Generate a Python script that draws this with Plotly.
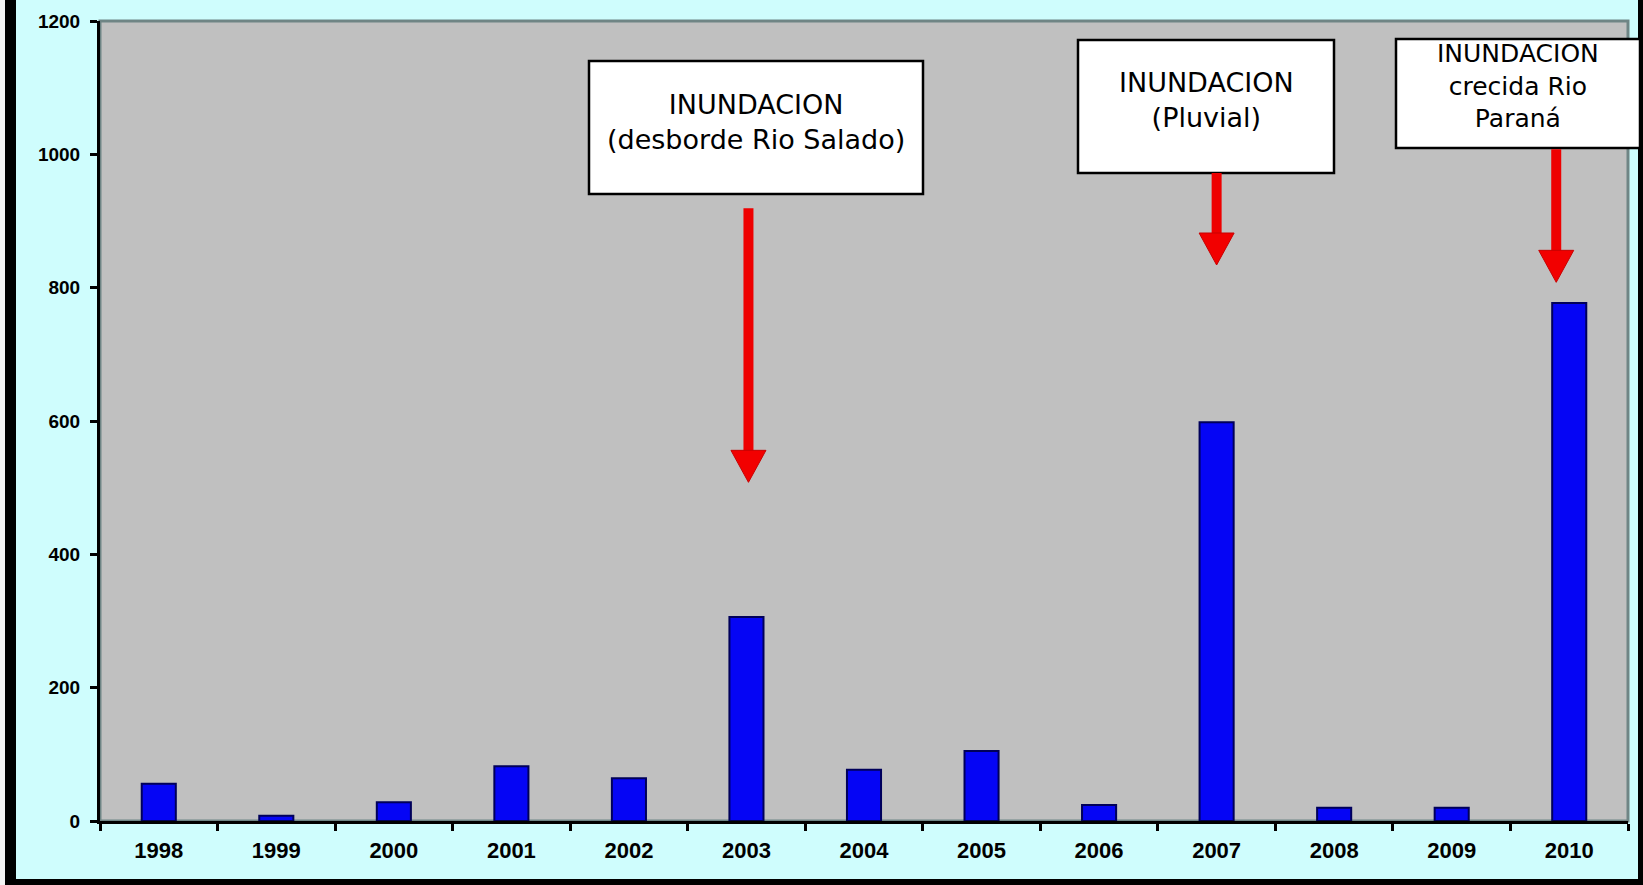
import plotly.graph_objects as go

# ---- data ----
years = ["1998", "1999", "2000", "2001", "2002", "2003", "2004",
         "2005", "2006", "2007", "2008", "2009", "2010"]
values = [56, 8, 28, 82, 64, 306, 77, 105, 24, 598, 20, 20, 777]
y_ticks = [0, 200, 400, 600, 800, 1000, 1200]

# annotation texts and the year each arrow points to
notes = ["INUNDACION<br>(desborde Rio Salado)",
         "INUNDACION<br>(Pluvial)",
         "INUNDACION<br>crecida Rio<br>Paraná"]
note_sizes = [27, 27, 25]
note_years = ["2003", "2007", "2010"]
arrow_tip_vals = [508, 834, 808]

# ---- layout geometry (pixels in a 1643x885 page) ----
W, H = 1643, 885
L, R, T, B = 100, 1628, 21, 821


def px(xp):
    return (xp - L) / (R - L)


def py(yp):
    return (B - yp) / (B - T)


fig = go.Figure()
fig.add_trace(go.Bar(
    x=years, y=values,
    marker=dict(color="#0505f5", line=dict(color="#00005a", width=2)),
    width=0.29,
))

shapes = []
# plot-area frame (grey top/right)
shapes.append(dict(type="rect", xref="x domain", yref="y domain",
                   x0=0, x1=1, y0=0, y1=1,
                   line=dict(color="#6f8585", width=3), layer="below"))
# page borders
shapes.append(dict(type="rect", xref="paper", yref="paper",
                   x0=px(0), x1=px(5), y0=py(H), y1=py(0),
                   fillcolor="#f4f4f4", line=dict(width=0), layer="below"))
shapes.append(dict(type="rect", xref="paper", yref="paper",
                   x0=px(5), x1=px(16), y0=py(H), y1=py(0),
                   fillcolor="black", line=dict(width=0), layer="above"))
shapes.append(dict(type="rect", xref="paper", yref="paper",
                   x0=px(5), x1=px(W), y0=py(H), y1=py(879),
                   fillcolor="black", line=dict(width=0), layer="above"))
shapes.append(dict(type="rect", xref="paper", yref="paper",
                   x0=px(1638), x1=px(W), y0=py(H), y1=py(0),
                   fillcolor="black", line=dict(width=0), layer="above"))

# note boxes (pixel extents)
boxes = [(589, 923, 61, 194), (1078, 1334, 40, 173), (1396, 1640, 39, 148)]
text_centers = [(756, 122), (1206, 100), (1518, 86)]
for (x0, x1, y0, y1) in boxes:
    shapes.append(dict(type="rect", xref="paper", yref="paper",
                       x0=px(x0), x1=px(x1), y0=py(y1), y1=py(y0),
                       fillcolor="white", line=dict(color="black", width=2.5),
                       layer="above"))

# red arrows: shaft + head, sized in pixels, anchored at the data tip
arrow_lengths = [274, 92, 133]   # px from tip to tail
arrow_xshift = [2, 0, -13]       # px
head_w, head_h, shaft_w = 35, 32, 10
for yr, tv, ln, xs in zip(note_years, arrow_tip_vals, arrow_lengths, arrow_xshift):
    idx = years.index(yr)
    shapes.append(dict(
        type="line", xref="x", yref="y",
        xsizemode="pixel", ysizemode="pixel",
        xanchor=idx, yanchor=tv,
        x0=xs, x1=xs, y0=head_h - 2, y1=ln,
        line=dict(color="#ee0000", width=shaft_w), layer="above"))
    shapes.append(dict(
        type="path", xref="x", yref="y",
        xsizemode="pixel", ysizemode="pixel",
        xanchor=idx, yanchor=tv,
        path=(f"M{xs - head_w / 2},{head_h} L{xs + head_w / 2},{head_h} "
              f"L{xs},0 Z"),
        fillcolor="#f20000", line=dict(color="#c80000", width=1),
        layer="above"))

annotations = []
for txt, sz, (cx, cy) in zip(notes, note_sizes, text_centers):
    annotations.append(dict(
        text=txt, xref="paper", yref="paper", x=px(cx), y=py(cy),
        xanchor="center", yanchor="middle", showarrow=False,
        font=dict(family="DejaVu Sans", size=sz, color="black"),
    ))

fig.update_layout(
    width=W, height=H,
    margin=dict(l=L, r=W - R, t=T, b=H - B, pad=0),
    paper_bgcolor="#cffdfd",
    plot_bgcolor="#c0c0c0",
    showlegend=False,
    bargap=0.71,
    shapes=shapes,
    annotations=annotations,
    xaxis=dict(
        type="category", showgrid=False, zeroline=False,
        showline=True, linecolor="black", linewidth=3,
        ticks="outside", ticklen=7, tickwidth=3, tickcolor="black",
        tickson="boundaries", ticklabelstandoff=8,
        tickfont=dict(family="Liberation Sans", size=22, color="black", weight="bold"),
        range=[-0.5, 12.5],
    ),
    yaxis=dict(
        range=[0, 1200], tickvals=y_ticks, showgrid=False, zeroline=False,
        showline=True, linecolor="black", linewidth=3,
        ticks="outside", ticklen=7, tickwidth=3, tickcolor="black",
        ticklabelstandoff=6,
        tickfont=dict(family="Liberation Sans", size=19, color="black", weight="bold"),
    ),
)

fig.write_html("out.html", post_script="document.body.style.margin='0';",
               config={"displayModeBar": False})
